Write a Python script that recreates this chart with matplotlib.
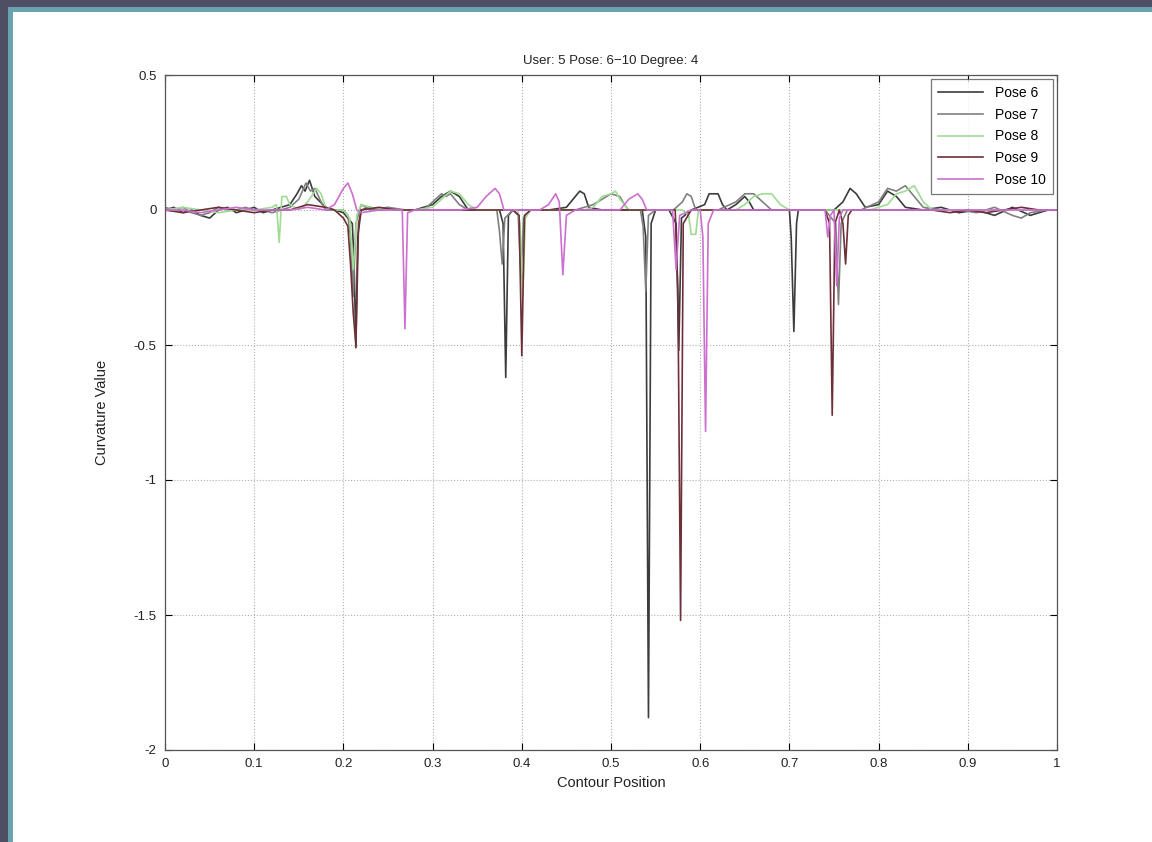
import matplotlib
matplotlib.use("Agg")
import matplotlib.pyplot as plt
from matplotlib.patches import Rectangle

title = "User: 5 Pose: 6\u221210 Degree: 4"
series_names = ["Pose 6", "Pose 7", "Pose 8", "Pose 9", "Pose 10"]
series_colors = ["#3c3c3c", "#808080", "#9edc92", "#6e3038", "#cc6fd0"]
x_ticks = [0, 0.1, 0.2, 0.3, 0.4, 0.5, 0.6, 0.7, 0.8, 0.9, 1]
x_tick_labels = ["0", "0.1", "0.2", "0.3", "0.4", "0.5", "0.6", "0.7", "0.8", "0.9", "1"]
y_ticks = [0.5, 0, -0.5, -1, -1.5, -2]
y_tick_labels = ["0.5", "0", "-0.5", "-1", "-1.5", "-2"]

pose6 = [(0.00, 0.0), (0.01, 0.01), (0.02, -0.01), (0.03, 0.0), (0.04, -0.02), (0.05, -0.03),
         (0.06, 0.0), (0.07, 0.01), (0.08, -0.01), (0.09, 0.0), (0.10, 0.01), (0.11, -0.01),
         (0.12, 0.0), (0.13, 0.01), (0.14, 0.02), (0.148, 0.06), (0.153, 0.09), (0.157, 0.07),
         (0.162, 0.11), (0.168, 0.05), (0.18, 0.01), (0.19, 0.0), (0.20, -0.01), (0.205, -0.03),
         (0.21, -0.05), (0.212, -0.2), (0.214, -0.51), (0.216, -0.1), (0.22, 0.0), (0.23, 0.01),
         (0.24, 0.0), (0.26, 0.0), (0.28, 0.0), (0.30, 0.02), (0.31, 0.05), (0.32, 0.07),
         (0.33, 0.05), (0.34, 0.0), (0.36, 0.0), (0.375, 0.0), (0.379, -0.05), (0.382, -0.62),
         (0.385, -0.02), (0.39, 0.0), (0.41, 0.0), (0.43, 0.0), (0.45, 0.01), (0.46, 0.05),
         (0.465, 0.07), (0.47, 0.06), (0.475, 0.01), (0.49, 0.0), (0.52, 0.0), (0.535, 0.0),
         (0.539, -0.1), (0.542, -1.88), (0.545, -0.05), (0.55, 0.0), (0.565, 0.0), (0.573, -0.05),
         (0.576, -0.52), (0.579, -0.03), (0.59, 0.0), (0.605, 0.02), (0.61, 0.06), (0.62, 0.06),
         (0.625, 0.02), (0.63, 0.0), (0.64, 0.02), (0.65, 0.05), (0.655, 0.03), (0.66, 0.0),
         (0.68, 0.0), (0.70, 0.0), (0.702, -0.1), (0.705, -0.45), (0.708, -0.05), (0.71, 0.0),
         (0.73, 0.0), (0.75, 0.0), (0.76, 0.03), (0.768, 0.08), (0.775, 0.06), (0.785, 0.01),
         (0.80, 0.02), (0.81, 0.07), (0.82, 0.05), (0.83, 0.01), (0.85, 0.0), (0.87, 0.01),
         (0.89, -0.01), (0.91, 0.0), (0.93, -0.02), (0.95, 0.01), (0.97, -0.02), (0.99, 0.0),
         (1.00, 0.0)]

pose7 = [(0.00, 0.01), (0.01, 0.0), (0.02, 0.01), (0.03, -0.01), (0.04, -0.02), (0.05, -0.01),
         (0.06, 0.01), (0.07, 0.0), (0.08, 0.0), (0.09, 0.01), (0.10, 0.0), (0.11, 0.0),
         (0.12, -0.01), (0.13, 0.0), (0.14, 0.01), (0.15, 0.04), (0.158, 0.1), (0.163, 0.07),
         (0.168, 0.08), (0.175, 0.03), (0.18, 0.0), (0.19, 0.0), (0.20, 0.0), (0.205, -0.02),
         (0.208, -0.1), (0.211, -0.32), (0.214, -0.05), (0.22, 0.02), (0.23, 0.0), (0.25, 0.01),
         (0.27, 0.0), (0.29, 0.0), (0.30, 0.03), (0.31, 0.06), (0.315, 0.05), (0.32, 0.06),
         (0.33, 0.02), (0.34, 0.0), (0.36, 0.0), (0.372, 0.0), (0.375, -0.08), (0.378, -0.2),
         (0.381, -0.03), (0.39, 0.0), (0.396, -0.02), (0.399, -0.25), (0.402, -0.03), (0.41, 0.0),
         (0.43, 0.0), (0.46, 0.0), (0.48, 0.02), (0.49, 0.04), (0.50, 0.06), (0.51, 0.05),
         (0.515, 0.02), (0.52, 0.0), (0.533, 0.0), (0.536, -0.06), (0.539, -0.3), (0.542, -0.02),
         (0.55, 0.0), (0.57, 0.0), (0.58, 0.03), (0.585, 0.06), (0.59, 0.05), (0.595, 0.0),
         (0.61, 0.0), (0.62, 0.0), (0.64, 0.03), (0.65, 0.06), (0.66, 0.06), (0.67, 0.03),
         (0.68, 0.0), (0.70, 0.0), (0.72, 0.0), (0.74, 0.0), (0.752, -0.05), (0.755, -0.35),
         (0.758, -0.05), (0.765, 0.0), (0.78, 0.0), (0.80, 0.03), (0.81, 0.08), (0.82, 0.07),
         (0.83, 0.09), (0.84, 0.05), (0.85, 0.01), (0.87, 0.0), (0.89, 0.0), (0.91, -0.01),
         (0.93, 0.01), (0.95, -0.02), (0.96, -0.03), (0.97, -0.01), (0.99, 0.0), (1.00, 0.0)]

pose8 = [(0.00, 0.0), (0.02, 0.01), (0.04, 0.0), (0.06, -0.01), (0.08, 0.0), (0.10, 0.0),
         (0.12, 0.01), (0.125, 0.02), (0.128, -0.12), (0.131, 0.05), (0.136, 0.05), (0.14, 0.02),
         (0.15, 0.0), (0.16, 0.03), (0.17, 0.08), (0.175, 0.06), (0.18, 0.01), (0.19, 0.0),
         (0.20, 0.0), (0.207, -0.03), (0.211, -0.22), (0.215, -0.02), (0.22, 0.02), (0.23, 0.01),
         (0.25, 0.0), (0.28, 0.0), (0.30, 0.01), (0.31, 0.04), (0.32, 0.07), (0.33, 0.06),
         (0.34, 0.02), (0.35, 0.0), (0.38, 0.0), (0.395, 0.0), (0.398, -0.05), (0.401, -0.32),
         (0.404, -0.03), (0.41, 0.0), (0.44, 0.0), (0.47, 0.0), (0.48, 0.01), (0.49, 0.05),
         (0.50, 0.06), (0.505, 0.07), (0.51, 0.04), (0.52, 0.0), (0.55, 0.0), (0.58, 0.0),
         (0.587, -0.02), (0.59, -0.09), (0.595, -0.09), (0.598, 0.0), (0.61, 0.0), (0.64, 0.0),
         (0.65, 0.02), (0.66, 0.05), (0.67, 0.06), (0.68, 0.06), (0.69, 0.02), (0.70, 0.0),
         (0.73, 0.0), (0.76, 0.0), (0.79, 0.0), (0.81, 0.02), (0.82, 0.06), (0.83, 0.07),
         (0.84, 0.09), (0.85, 0.03), (0.86, 0.0), (0.89, 0.0), (0.92, 0.0), (0.95, 0.0),
         (0.98, 0.0), (1.00, 0.0)]

pose9 = [(0.00, 0.0), (0.02, -0.01), (0.04, 0.0), (0.06, 0.01), (0.08, 0.0), (0.10, -0.01),
         (0.12, 0.0), (0.14, 0.0), (0.16, 0.02), (0.18, 0.01), (0.19, 0.0), (0.20, -0.03),
         (0.205, -0.06), (0.208, -0.2), (0.211, -0.38), (0.214, -0.5), (0.217, -0.05), (0.22, 0.0),
         (0.24, 0.01), (0.26, 0.0), (0.29, 0.0), (0.32, 0.0), (0.35, 0.0), (0.37, 0.0),
         (0.39, 0.0), (0.397, -0.02), (0.400, -0.54), (0.403, -0.02), (0.41, 0.0), (0.44, 0.0),
         (0.47, 0.0), (0.50, 0.0), (0.53, 0.0), (0.56, 0.0), (0.572, 0.0), (0.575, -0.3),
         (0.578, -1.52), (0.581, -0.05), (0.59, 0.0), (0.62, 0.0), (0.65, 0.0), (0.68, 0.0),
         (0.71, 0.0), (0.74, 0.0), (0.745, -0.05), (0.748, -0.76), (0.751, -0.05), (0.756, 0.0),
         (0.76, -0.05), (0.763, -0.2), (0.766, -0.02), (0.77, 0.0), (0.80, 0.0), (0.83, 0.0),
         (0.86, 0.0), (0.88, -0.01), (0.90, 0.0), (0.92, -0.01), (0.94, 0.0), (0.96, 0.01),
         (0.98, 0.0), (1.00, 0.0)]

pose10 = [(0.00, 0.0), (0.02, 0.0), (0.04, -0.01), (0.06, 0.0), (0.08, 0.01), (0.10, 0.0),
          (0.12, 0.0), (0.14, 0.0), (0.16, 0.01), (0.18, 0.0), (0.19, 0.02), (0.20, 0.08),
          (0.205, 0.1), (0.21, 0.06), (0.215, 0.0), (0.22, -0.01), (0.24, 0.0), (0.26, 0.0),
          (0.266, 0.0), (0.269, -0.44), (0.272, -0.01), (0.28, 0.0), (0.30, 0.0), (0.33, 0.0),
          (0.35, 0.01), (0.36, 0.05), (0.37, 0.08), (0.375, 0.06), (0.38, 0.0), (0.40, 0.0),
          (0.42, 0.0), (0.43, 0.02), (0.438, 0.06), (0.442, 0.03), (0.446, -0.24), (0.45, -0.02),
          (0.46, 0.0), (0.49, 0.0), (0.51, 0.0), (0.52, 0.04), (0.53, 0.06), (0.535, 0.04),
          (0.54, 0.0), (0.56, 0.0), (0.569, 0.0), (0.573, -0.22), (0.577, -0.02), (0.59, 0.0),
          (0.60, 0.0), (0.603, -0.1), (0.606, -0.82), (0.609, -0.05), (0.615, 0.0), (0.64, 0.0),
          (0.67, 0.0), (0.70, 0.0), (0.73, 0.0), (0.74, 0.0), (0.743, -0.1), (0.746, -0.02),
          (0.75, 0.0), (0.753, -0.28), (0.756, -0.03), (0.76, 0.0), (0.79, 0.0), (0.82, 0.0),
          (0.85, 0.0), (0.88, 0.0), (0.91, 0.0), (0.94, 0.0), (0.97, 0.0), (1.00, 0.0)]

all_series = [pose6, pose7, pose8, pose9, pose10]

plt.rcParams['font.family'] = ['Liberation Sans', 'DejaVu Sans']

fig = plt.figure(figsize=(11.52, 8.42), dpi=100)
fig.patch.set_facecolor("white")
# slide frame on left and top
fig.patches.append(Rectangle((0, 0), 8 / 1152, 1, transform=fig.transFigure,
                             facecolor="#4f4f63", edgecolor="none", zorder=0))
fig.patches.append(Rectangle((0, 1 - 7 / 842), 1, 7 / 842, transform=fig.transFigure,
                             facecolor="#4f4f63", edgecolor="none", zorder=0))
fig.patches.append(Rectangle((8 / 1152, 0), 5 / 1152, 1 - 7 / 842, transform=fig.transFigure,
                             facecolor="#6aa2b0", edgecolor="none", zorder=0))
fig.patches.append(Rectangle((8 / 1152, 1 - 12 / 842), 1 - 8 / 1152, 5 / 842,
                             transform=fig.transFigure,
                             facecolor="#6aa2b0", edgecolor="none", zorder=0))

ax = fig.add_axes([165 / 1152, 1 - 750 / 842, (1057 - 165) / 1152, (750 - 75) / 842])

for data, name, col in zip(all_series, series_names, series_colors):
    xs = [p[0] for p in data]
    ys = [p[1] for p in data]
    ax.plot(xs, ys, color=col, linewidth=1.2, label=name)

ax.set_xlim(0, 1)
ax.set_ylim(-2, 0.5)
ax.set_xticks(x_ticks)
ax.set_xticklabels(x_tick_labels)
ax.set_yticks(y_ticks)
ax.set_yticklabels(y_tick_labels)
ax.tick_params(direction="in", length=5, labelsize=9.5, top=True, right=True, pad=6,
               labelcolor="#222222")
ax.grid(True, linestyle=":", color="#b0b0b0", linewidth=0.8)
for s in ax.spines.values():
    s.set_color("#555555")
    s.set_linewidth(0.9)

ax.set_title(title, fontsize=9.5, pad=8, color="#222222")
ax.set_xlabel("Contour Position", fontsize=10.5, labelpad=4, color="#222222")
ax.set_ylabel("Curvature Value", fontsize=10.5, labelpad=18, color="#222222")

leg = ax.legend(loc="upper right", fontsize=10, frameon=True, fancybox=False,
                handlelength=3.2, handletextpad=0.9, borderaxespad=0.3,
                labelspacing=0.55, borderpad=0.5)
leg.get_frame().set_edgecolor("#555555")
leg.get_frame().set_linewidth(0.9)

fig.savefig("out.png", dpi=100)
